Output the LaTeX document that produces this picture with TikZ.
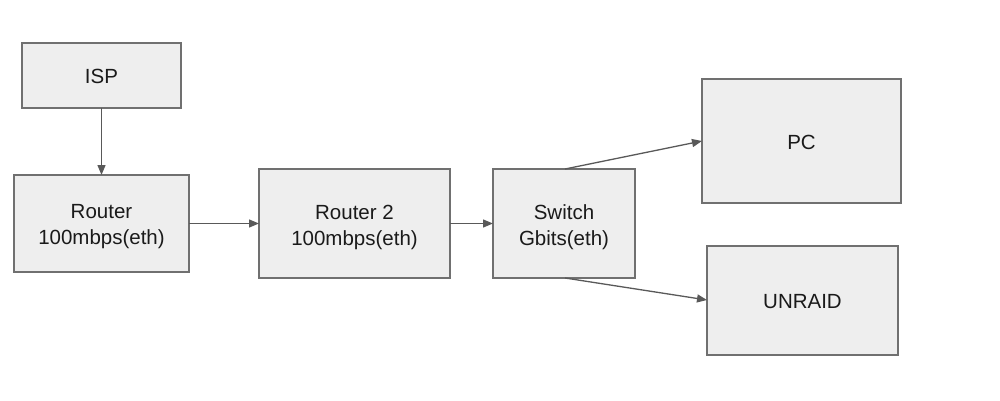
\documentclass[tikz,border=0pt]{standalone}
\usepackage{fontspec}
\setmainfont{Liberation Sans}
\usetikzlibrary{arrows.meta}
\definecolor{boxfill}{HTML}{EEEEEE}
\definecolor{boxline}{HTML}{707070}
\definecolor{arrowc}{HTML}{595959}
\definecolor{txt}{HTML}{1A1A1A}
\tikzset{
  box/.style={draw=boxline, line width=1.4pt, fill=boxfill},
  lbl/.style={align=center, text=txt, font=\fontsize{20.5pt}{26pt}\selectfont, inner sep=0pt},
  conn/.style={draw=arrowc, line width=1.3pt, -{Triangle[length=10pt,width=8pt]}}
}
\begin{document}
\begin{tikzpicture}[x=1pt,y=-1pt]
\useasboundingbox (0,0) rectangle (1000,401);
% boxes
\draw[box] (22,43) rectangle (181,108);
\node[lbl] (isp) at (101.5,76.5) {ISP};
\coordinate (ispS) at (101.5,108);
\draw[box] (14,175) rectangle (189,272);
\node[lbl] (r1) at (101.5,227) {Router\\100mbps(eth)};
\coordinate (r1N) at (101.5,175);
\coordinate (r1E) at (189,223.5);
\draw[box] (259,169) rectangle (450,278);
\node[lbl] (r2) at (354.5,227) {Router 2\\100mbps(eth)};
\coordinate (r2W) at (259,223.5);
\coordinate (r2E) at (450,223.5);
\draw[box] (493,169) rectangle (635,278);
\node[lbl] (sw) at (564,227) {Switch\\Gbits(eth)};
\coordinate (swW) at (493,223.5);
\coordinate (swN) at (565,169);
\coordinate (swS) at (565,278);
\draw[box] (702,79) rectangle (901,203);
\node[lbl] (pc) at (801.5,142) {PC};
\coordinate (pcW) at (702,141);
\draw[box] (707,246) rectangle (898,355);
\node[lbl] (un) at (802.5,301.5) {UNRAID};
\coordinate (unW) at (707,300);
% connectors
\draw[conn] (ispS) -- (r1N);
\draw[conn] (r1E) -- (r2W);
\draw[conn] (r2E) -- (swW);
\draw[conn] (swN) -- (pcW);
\draw[conn] (swS) -- (unW);
\end{tikzpicture}
\end{document}
